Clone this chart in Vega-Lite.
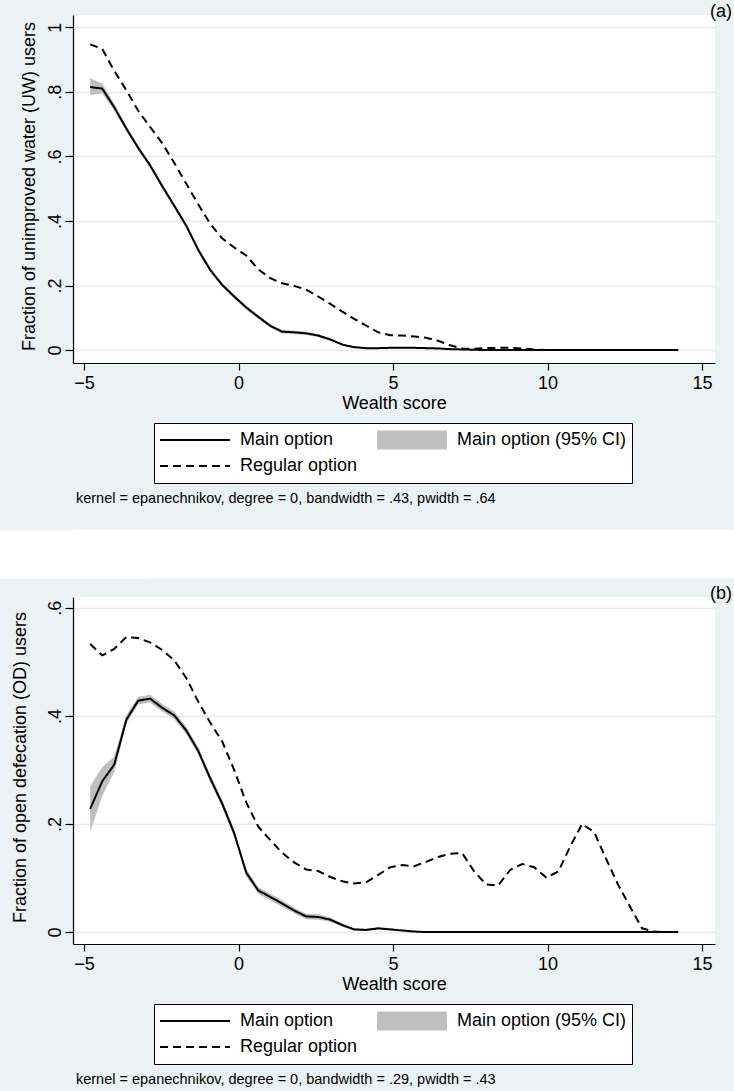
{
  "$schema": "https://vega.github.io/schema/vega-lite/v6.json",
  "background": "#eaf2f3",
  "padding": {"left": 0, "top": 3, "right": 0, "bottom": 4},
  "config": {
    "font": "Liberation Sans",
    "view": {"stroke": null},
    "axis": {
      "domainColor": "black", "tickColor": "black", "labelColor": "black", "titleColor": "black",
      "titleFontWeight": "normal", "labelFontSize": 18, "titleFontSize": 18,
      "domainWidth": 1.2, "tickWidth": 1.2, "labelOverlap": false, "labelFlush": false
    },
    "title": {"fontSize": 18, "fontWeight": "normal", "color": "black", "anchor": "end", "frame": "group", "offset": -6, "dx": 17},
    "legend": {
      "orient": "none", "direction": "horizontal", "columns": 2, "title": null,
      "symbolSize": 4900, "symbolStrokeWidth": 2, "symbolOffset": 0,
      "labelFontSize": 18, "labelColor": "black", "labelOffset": 9, "labelLimit": 400,
      "columnPadding": 18, "rowPadding": 2, "padding": 5, "clipHeight": 24
    }
  },
  "datasets": {
    "a": [
      {"x": -4.80, "Main option": 0.815, "Regular option": 0.947, "lo": 0.790, "hi": 0.842},
      {"x": -4.41, "Main option": 0.810, "Regular option": 0.933, "lo": 0.795, "hi": 0.826},
      {"x": -4.02, "Main option": 0.752, "Regular option": 0.865, "lo": 0.742, "hi": 0.763},
      {"x": -3.63, "Main option": 0.686, "Regular option": 0.805, "lo": 0.678, "hi": 0.694},
      {"x": -3.25, "Main option": 0.627, "Regular option": 0.742, "lo": 0.620, "hi": 0.634},
      {"x": -2.86, "Main option": 0.572, "Regular option": 0.691, "lo": 0.565, "hi": 0.579},
      {"x": -2.47, "Main option": 0.508, "Regular option": 0.641, "lo": 0.501, "hi": 0.515},
      {"x": -2.08, "Main option": 0.447, "Regular option": 0.580, "lo": 0.440, "hi": 0.454},
      {"x": -1.69, "Main option": 0.385, "Regular option": 0.515, "lo": 0.378, "hi": 0.392},
      {"x": -1.30, "Main option": 0.310, "Regular option": 0.451, "lo": 0.303, "hi": 0.317},
      {"x": -0.92, "Main option": 0.249, "Regular option": 0.392, "lo": 0.242, "hi": 0.256},
      {"x": -0.53, "Main option": 0.202, "Regular option": 0.346, "lo": 0.196, "hi": 0.208},
      {"x": -0.14, "Main option": 0.166, "Regular option": 0.318, "lo": 0.160, "hi": 0.172},
      {"x": 0.25, "Main option": 0.132, "Regular option": 0.293, "lo": 0.126, "hi": 0.138},
      {"x": 0.64, "Main option": 0.103, "Regular option": 0.250, "lo": 0.097, "hi": 0.109},
      {"x": 1.03, "Main option": 0.075, "Regular option": 0.223, "lo": 0.070, "hi": 0.080},
      {"x": 1.41, "Main option": 0.057, "Regular option": 0.207, "lo": 0.052, "hi": 0.062},
      {"x": 1.80, "Main option": 0.055, "Regular option": 0.199, "lo": 0.050, "hi": 0.060},
      {"x": 2.19, "Main option": 0.052, "Regular option": 0.187, "lo": 0.047, "hi": 0.057},
      {"x": 2.58, "Main option": 0.045, "Regular option": 0.166, "lo": 0.040, "hi": 0.050},
      {"x": 2.97, "Main option": 0.033, "Regular option": 0.143, "lo": 0.029, "hi": 0.037},
      {"x": 3.36, "Main option": 0.017, "Regular option": 0.119, "lo": 0.014, "hi": 0.020},
      {"x": 3.74, "Main option": 0.009, "Regular option": 0.097, "lo": 0.007, "hi": 0.011},
      {"x": 4.13, "Main option": 0.006, "Regular option": 0.076, "lo": 0.004, "hi": 0.008},
      {"x": 4.52, "Main option": 0.006, "Regular option": 0.055, "lo": 0.004, "hi": 0.008},
      {"x": 4.91, "Main option": 0.007, "Regular option": 0.046, "lo": 0.005, "hi": 0.009},
      {"x": 5.30, "Main option": 0.007, "Regular option": 0.045, "lo": 0.005, "hi": 0.009},
      {"x": 5.69, "Main option": 0.007, "Regular option": 0.042, "lo": 0.005, "hi": 0.009},
      {"x": 6.07, "Main option": 0.006, "Regular option": 0.038, "lo": 0.004, "hi": 0.008},
      {"x": 6.46, "Main option": 0.005, "Regular option": 0.029, "lo": 0.003, "hi": 0.007},
      {"x": 6.85, "Main option": 0.003, "Regular option": 0.015, "lo": 0.002, "hi": 0.004},
      {"x": 7.24, "Main option": 0.002, "Regular option": 0.005, "lo": 0.001, "hi": 0.003},
      {"x": 7.63, "Main option": 0.001, "Regular option": 0.004, "lo": 0.000, "hi": 0.002},
      {"x": 8.02, "Main option": 0.000, "Regular option": 0.006, "lo": 0.000, "hi": 0.001},
      {"x": 8.40, "Main option": 0.000, "Regular option": 0.007, "lo": 0.000, "hi": 0.000},
      {"x": 8.79, "Main option": 0.000, "Regular option": 0.007, "lo": 0.000, "hi": 0.000},
      {"x": 9.18, "Main option": 0.000, "Regular option": 0.005, "lo": 0.000, "hi": 0.000},
      {"x": 9.57, "Main option": 0.000, "Regular option": 0.002, "lo": 0.000, "hi": 0.000},
      {"x": 9.96, "Main option": 0.000, "Regular option": 0.000, "lo": 0.000, "hi": 0.000},
      {"x": 10.35, "Main option": 0.000, "Regular option": 0.000, "lo": 0.000, "hi": 0.000},
      {"x": 10.73, "Main option": 0.000, "Regular option": 0.000, "lo": 0.000, "hi": 0.000},
      {"x": 11.12, "Main option": 0.000, "Regular option": 0.000, "lo": 0.000, "hi": 0.000},
      {"x": 11.51, "Main option": 0.000, "Regular option": 0.000, "lo": 0.000, "hi": 0.000},
      {"x": 11.90, "Main option": 0.000, "Regular option": 0.000, "lo": 0.000, "hi": 0.000},
      {"x": 12.29, "Main option": 0.000, "Regular option": 0.000, "lo": 0.000, "hi": 0.000},
      {"x": 12.68, "Main option": 0.000, "Regular option": 0.000, "lo": 0.000, "hi": 0.000},
      {"x": 13.06, "Main option": 0.000, "Regular option": 0.000, "lo": 0.000, "hi": 0.000},
      {"x": 13.45, "Main option": 0.000, "Regular option": 0.000, "lo": 0.000, "hi": 0.000},
      {"x": 13.84, "Main option": 0.000, "Regular option": 0.000, "lo": 0.000, "hi": 0.000},
      {"x": 14.23, "Main option": 0.000, "Regular option": 0.000, "lo": 0.000, "hi": 0.000}
    ],
    "b": [
      {"x": -4.80, "Main option": 0.228, "Regular option": 0.533, "lo": 0.185, "hi": 0.270},
      {"x": -4.41, "Main option": 0.279, "Regular option": 0.512, "lo": 0.252, "hi": 0.305},
      {"x": -4.02, "Main option": 0.310, "Regular option": 0.524, "lo": 0.296, "hi": 0.325},
      {"x": -3.63, "Main option": 0.393, "Regular option": 0.546, "lo": 0.385, "hi": 0.401},
      {"x": -3.25, "Main option": 0.428, "Regular option": 0.544, "lo": 0.421, "hi": 0.435},
      {"x": -2.86, "Main option": 0.432, "Regular option": 0.536, "lo": 0.425, "hi": 0.439},
      {"x": -2.47, "Main option": 0.415, "Regular option": 0.522, "lo": 0.408, "hi": 0.422},
      {"x": -2.08, "Main option": 0.401, "Regular option": 0.503, "lo": 0.394, "hi": 0.408},
      {"x": -1.69, "Main option": 0.373, "Regular option": 0.470, "lo": 0.366, "hi": 0.380},
      {"x": -1.30, "Main option": 0.335, "Regular option": 0.426, "lo": 0.328, "hi": 0.342},
      {"x": -0.92, "Main option": 0.285, "Regular option": 0.388, "lo": 0.278, "hi": 0.292},
      {"x": -0.53, "Main option": 0.238, "Regular option": 0.353, "lo": 0.231, "hi": 0.245},
      {"x": -0.14, "Main option": 0.183, "Regular option": 0.300, "lo": 0.176, "hi": 0.190},
      {"x": 0.25, "Main option": 0.110, "Regular option": 0.240, "lo": 0.103, "hi": 0.117},
      {"x": 0.64, "Main option": 0.077, "Regular option": 0.195, "lo": 0.071, "hi": 0.083},
      {"x": 1.03, "Main option": 0.065, "Regular option": 0.170, "lo": 0.059, "hi": 0.071},
      {"x": 1.41, "Main option": 0.053, "Regular option": 0.147, "lo": 0.047, "hi": 0.059},
      {"x": 1.80, "Main option": 0.040, "Regular option": 0.129, "lo": 0.035, "hi": 0.045},
      {"x": 2.19, "Main option": 0.029, "Regular option": 0.116, "lo": 0.024, "hi": 0.034},
      {"x": 2.58, "Main option": 0.028, "Regular option": 0.113, "lo": 0.023, "hi": 0.033},
      {"x": 2.97, "Main option": 0.023, "Regular option": 0.102, "lo": 0.019, "hi": 0.027},
      {"x": 3.36, "Main option": 0.013, "Regular option": 0.094, "lo": 0.010, "hi": 0.016},
      {"x": 3.74, "Main option": 0.005, "Regular option": 0.090, "lo": 0.003, "hi": 0.007},
      {"x": 4.13, "Main option": 0.004, "Regular option": 0.092, "lo": 0.002, "hi": 0.006},
      {"x": 4.52, "Main option": 0.007, "Regular option": 0.106, "lo": 0.005, "hi": 0.009},
      {"x": 4.91, "Main option": 0.005, "Regular option": 0.120, "lo": 0.003, "hi": 0.007},
      {"x": 5.30, "Main option": 0.003, "Regular option": 0.124, "lo": 0.002, "hi": 0.004},
      {"x": 5.69, "Main option": 0.001, "Regular option": 0.122, "lo": 0.000, "hi": 0.002},
      {"x": 6.07, "Main option": 0.000, "Regular option": 0.130, "lo": 0.000, "hi": 0.001},
      {"x": 6.46, "Main option": 0.000, "Regular option": 0.139, "lo": 0.000, "hi": 0.000},
      {"x": 6.85, "Main option": 0.000, "Regular option": 0.145, "lo": 0.000, "hi": 0.000},
      {"x": 7.24, "Main option": 0.000, "Regular option": 0.146, "lo": 0.000, "hi": 0.000},
      {"x": 7.63, "Main option": 0.000, "Regular option": 0.112, "lo": 0.000, "hi": 0.000},
      {"x": 8.02, "Main option": 0.000, "Regular option": 0.088, "lo": 0.000, "hi": 0.000},
      {"x": 8.40, "Main option": 0.000, "Regular option": 0.086, "lo": 0.000, "hi": 0.000},
      {"x": 8.79, "Main option": 0.000, "Regular option": 0.115, "lo": 0.000, "hi": 0.000},
      {"x": 9.18, "Main option": 0.000, "Regular option": 0.126, "lo": 0.000, "hi": 0.000},
      {"x": 9.57, "Main option": 0.000, "Regular option": 0.120, "lo": 0.000, "hi": 0.000},
      {"x": 9.96, "Main option": 0.000, "Regular option": 0.101, "lo": 0.000, "hi": 0.000},
      {"x": 10.35, "Main option": 0.000, "Regular option": 0.112, "lo": 0.000, "hi": 0.000},
      {"x": 10.73, "Main option": 0.000, "Regular option": 0.158, "lo": 0.000, "hi": 0.000},
      {"x": 11.12, "Main option": 0.000, "Regular option": 0.200, "lo": 0.000, "hi": 0.000},
      {"x": 11.51, "Main option": 0.000, "Regular option": 0.185, "lo": 0.000, "hi": 0.000},
      {"x": 11.90, "Main option": 0.000, "Regular option": 0.135, "lo": 0.000, "hi": 0.000},
      {"x": 12.29, "Main option": 0.000, "Regular option": 0.087, "lo": 0.000, "hi": 0.000},
      {"x": 12.68, "Main option": 0.000, "Regular option": 0.046, "lo": 0.000, "hi": 0.000},
      {"x": 13.06, "Main option": 0.000, "Regular option": 0.007, "lo": 0.000, "hi": 0.000},
      {"x": 13.45, "Main option": 0.000, "Regular option": 0.001, "lo": 0.000, "hi": 0.000},
      {"x": 13.84, "Main option": 0.000, "Regular option": 0.000, "lo": 0.000, "hi": 0.000},
      {"x": 14.23, "Main option": 0.000, "Regular option": 0.000, "lo": 0.000, "hi": 0.000}
    ]
  },
  "columns": 1,
  "align": "none",
  "spacing": 24,
  "resolve": {"scale": {"x": "independent", "y": "independent", "strokeDash": "independent", "fill": "independent"}, "legend": {"strokeDash": "independent", "fill": "independent"}},
  "concat": [
    {
      "width": 642,
      "height": 348,
      "title": {"text": "(a)"},
      "view": {"fill": "white", "stroke": null},
      "data": {"name": "a"},
      "layer": [
        {
          "transform": [{"fold": ["lo"], "as": ["band", "lov"]}],
          "mark": {"type": "area", "opacity": 1},
          "encoding": {
            "x": {"field": "x", "type": "quantitative", "scale": {"domain": [-5.356, 15.42], "nice": false, "zero": false},
              "axis": {"values": [-5, 0, 5, 10, 15], "title": "Wealth score", "grid": false, "tickSize": 7, "labelPadding": 4, "titlePadding": 2}},
            "y": {"field": "lov", "type": "quantitative", "scale": {"domain": [-0.040, 1.038], "nice": false, "zero": false},
              "title": "Fraction of unimproved water (UW) users",
              "axis": {"values": [0, 0.2, 0.4, 0.6, 0.8, 1], "grid": true, "gridColor": "#e3ecee", "gridWidth": 1.5, "tickSize": 8,
                "labelAngle": -90, "labelAlign": "center", "labelBaseline": "alphabetic", "labelPadding": 5,
                "labelExpr": "datum.value == 0 ? '0' : datum.value == 1 ? '1' : replace(format(datum.value, '.1f'), '0.', '.')",
                "minExtent": 73, "titleX": -39, "titleY": 171, "titleAngle": 270, "titleAlign": "center", "titleBaseline": "alphabetic"}},
            "y2": {"field": "hi"},
            "fill": {"field": "band", "type": "nominal", "scale": {"range": ["#bfbfbf"]},
              "legend": {"legendX": 304, "legendY": 413, "padding": 0, "symbolType": "M-1,-0.27H1V0.27H-1Z", "zindex": 2,
                "symbolStrokeWidth": 0, "symbolStrokeColor": "transparent", "symbolFillColor": "#bfbfbf", "symbolOpacity": 1, "labelExpr": "''", "columns": 1}}
          }
        },
        {
          "transform": [{"fold": ["Main option", "Regular option"], "as": ["series", "val"]}],
          "mark": {"type": "line", "color": "black", "strokeWidth": 2},
          "encoding": {
            "x": {"field": "x", "type": "quantitative"},
            "y": {"field": "val", "type": "quantitative", "title": "Fraction of unimproved water (UW) users"},
            "strokeDash": {"field": "series", "type": "nominal",
              "scale": {"domain": ["Main option", "Main option (95% CI)", "Regular option"], "range": [[1, 0], [0, 200], [8, 5]]},
              "legend": {"legendX": 81, "legendY": 408, "strokeColor": "black", "fillColor": "white", "zindex": 1}}
          }
        },
        {
          "data": {"values": [{"note": "kernel = epanechnikov, degree = 0, bandwidth = .43, pwidth = .64"}]},
          "mark": {"type": "text", "align": "left", "baseline": "middle", "fontSize": 14.5, "color": "black"},
          "encoding": {
            "x": {"datum": -5.26, "type": "quantitative"},
            "y": {"datum": -0.462, "type": "quantitative", "title": "Fraction of unimproved water (UW) users"},
            "text": {"field": "note"}
          }
        }
      ]
    },
    {
      "columns": 1,
      "align": "none",
      "spacing": 7,
      "resolve": {"scale": {"x": "independent", "y": "independent", "strokeDash": "independent", "fill": "independent"}, "legend": {"strokeDash": "independent", "fill": "independent"}},
      "concat": [
        {
          "width": 661,
          "height": 48,
          "data": {"values": []},
          "mark": {"type": "point"},
          "encoding": {
            "y": {"field": "v", "type": "quantitative", "scale": {"domain": [0, 1]},
              "axis": {"domainColor": "white", "domainWidth": 147, "domainCap": "butt", "ticks": false, "labels": false, "title": null, "grid": false}}
          },
          "view": {"fill": "white", "stroke": null}
        },
        {
          "width": 642,
          "height": 347,
          "title": {"text": "(b)"},
          "view": {"fill": "white", "stroke": null},
          "data": {"name": "b"},
          "layer": [
            {
              "transform": [{"fold": ["lo"], "as": ["band", "lov"]}],
              "mark": {"type": "area", "opacity": 1},
              "encoding": {
                "x": {"field": "x", "type": "quantitative", "scale": {"domain": [-5.356, 15.42], "nice": false, "zero": false},
                  "axis": {"values": [-5, 0, 5, 10, 15], "title": "Wealth score", "grid": false, "tickSize": 7, "labelPadding": 4, "titlePadding": 2}},
                "y": {"field": "lov", "type": "quantitative", "scale": {"domain": [-0.022, 0.620], "nice": false, "zero": false},
                  "title": "Fraction of open defecation (OD) users",
                  "axis": {"values": [0, 0.2, 0.4, 0.6], "grid": true, "gridColor": "#e3ecee", "gridWidth": 1.5, "tickSize": 8,
                    "labelAngle": -90, "labelAlign": "center", "labelBaseline": "alphabetic", "labelPadding": 5,
                    "labelExpr": "datum.value == 0 ? '0' : datum.value == 1 ? '1' : replace(format(datum.value, '.1f'), '0.', '.')",
                    "minExtent": 73, "titleX": -48, "titleY": 170, "titleAngle": 270, "titleAlign": "center", "titleBaseline": "alphabetic"}},
                "y2": {"field": "hi"},
                "fill": {"field": "band", "type": "nominal", "scale": {"range": ["#bfbfbf"]},
                  "legend": {"legendX": 304, "legendY": 412, "padding": 0, "symbolType": "M-1,-0.27H1V0.27H-1Z", "zindex": 2,
                    "symbolStrokeWidth": 0, "symbolStrokeColor": "transparent", "symbolFillColor": "#bfbfbf", "symbolOpacity": 1, "labelExpr": "''", "columns": 1}}
              }
            },
            {
              "transform": [{"fold": ["Main option", "Regular option"], "as": ["series", "val"]}],
              "mark": {"type": "line", "color": "black", "strokeWidth": 2},
              "encoding": {
                "x": {"field": "x", "type": "quantitative"},
                "y": {"field": "val", "type": "quantitative", "title": "Fraction of open defecation (OD) users"},
                "strokeDash": {"field": "series", "type": "nominal",
                  "scale": {"domain": ["Main option", "Main option (95% CI)", "Regular option"], "range": [[1, 0], [0, 200], [8, 5]]},
                  "legend": {"legendX": 81, "legendY": 407, "strokeColor": "black", "fillColor": "white", "zindex": 1}}
              }
            },
            {
              "data": {"values": [{"note": "kernel = epanechnikov, degree = 0, bandwidth = .29, pwidth = .43"}]},
              "mark": {"type": "text", "align": "left", "baseline": "middle", "fontSize": 14.5, "color": "black"},
              "encoding": {
                "x": {"datum": -5.26, "type": "quantitative"},
                "y": {"datum": -0.274, "type": "quantitative", "title": "Fraction of open defecation (OD) users"},
                "text": {"field": "note"}
              }
            }
          ]
        }
      ]
    }
  ]
}
